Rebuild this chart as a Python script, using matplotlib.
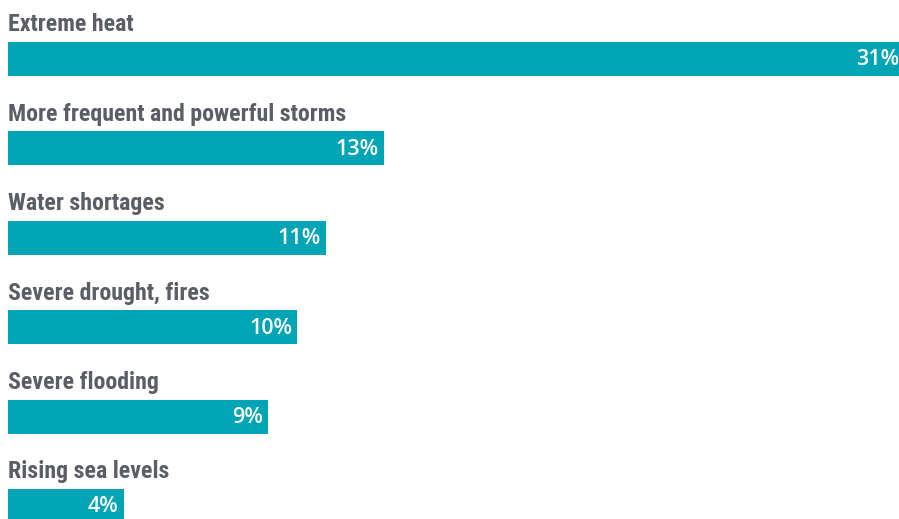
import matplotlib.pyplot as plt
import matplotlib.font_manager as fm

# data
categories = ['Extreme heat', 'More frequent and powerful storms', 'Water shortages',
              'Severe drought, fires', 'Severe flooding', 'Rising sea levels']
values = [31, 13, 11, 10, 9, 4]
value_labels = ['31%', '13%', '11%', '10%', '9%', '4%']

bar_color = '#00a5b5'
text_color = '#5c5e66'

# Open Sans Condensed is only a variable font here, so use a static condensed bold
label_font = fm.FontProperties(family='Roboto Condensed', weight='bold',
                               stretch='condensed', size=17.2)
value_font = fm.FontProperties(family='Open Sans', weight='semibold', size=15.5)

fig = plt.figure(figsize=(8.99, 5.19), dpi=100)
ax = fig.add_axes([0, 0, 1, 1])

pos = list(range(len(categories)))
ax.barh(pos, values, height=0.38, color=bar_color, align='center')

px = 28.9  # pixels per percentage point
for i, (cat, v, lab) in enumerate(zip(categories, values, value_labels)):
    # category name above each bar
    ax.text(0, i - 0.31, cat, ha='left', va='baseline',
            fontproperties=label_font, color=text_color)
    # value inside the bar, right aligned
    ax.text(v - 5 / px, i + 0.01, lab, ha='right', va='center',
            fontproperties=value_font, color='white')

ax.set_xlim(-8 / px, 891 / px)
ax.set_ylim(5.145, -0.66)
ax.axis('off')

fig.savefig('out.png', dpi=100)
